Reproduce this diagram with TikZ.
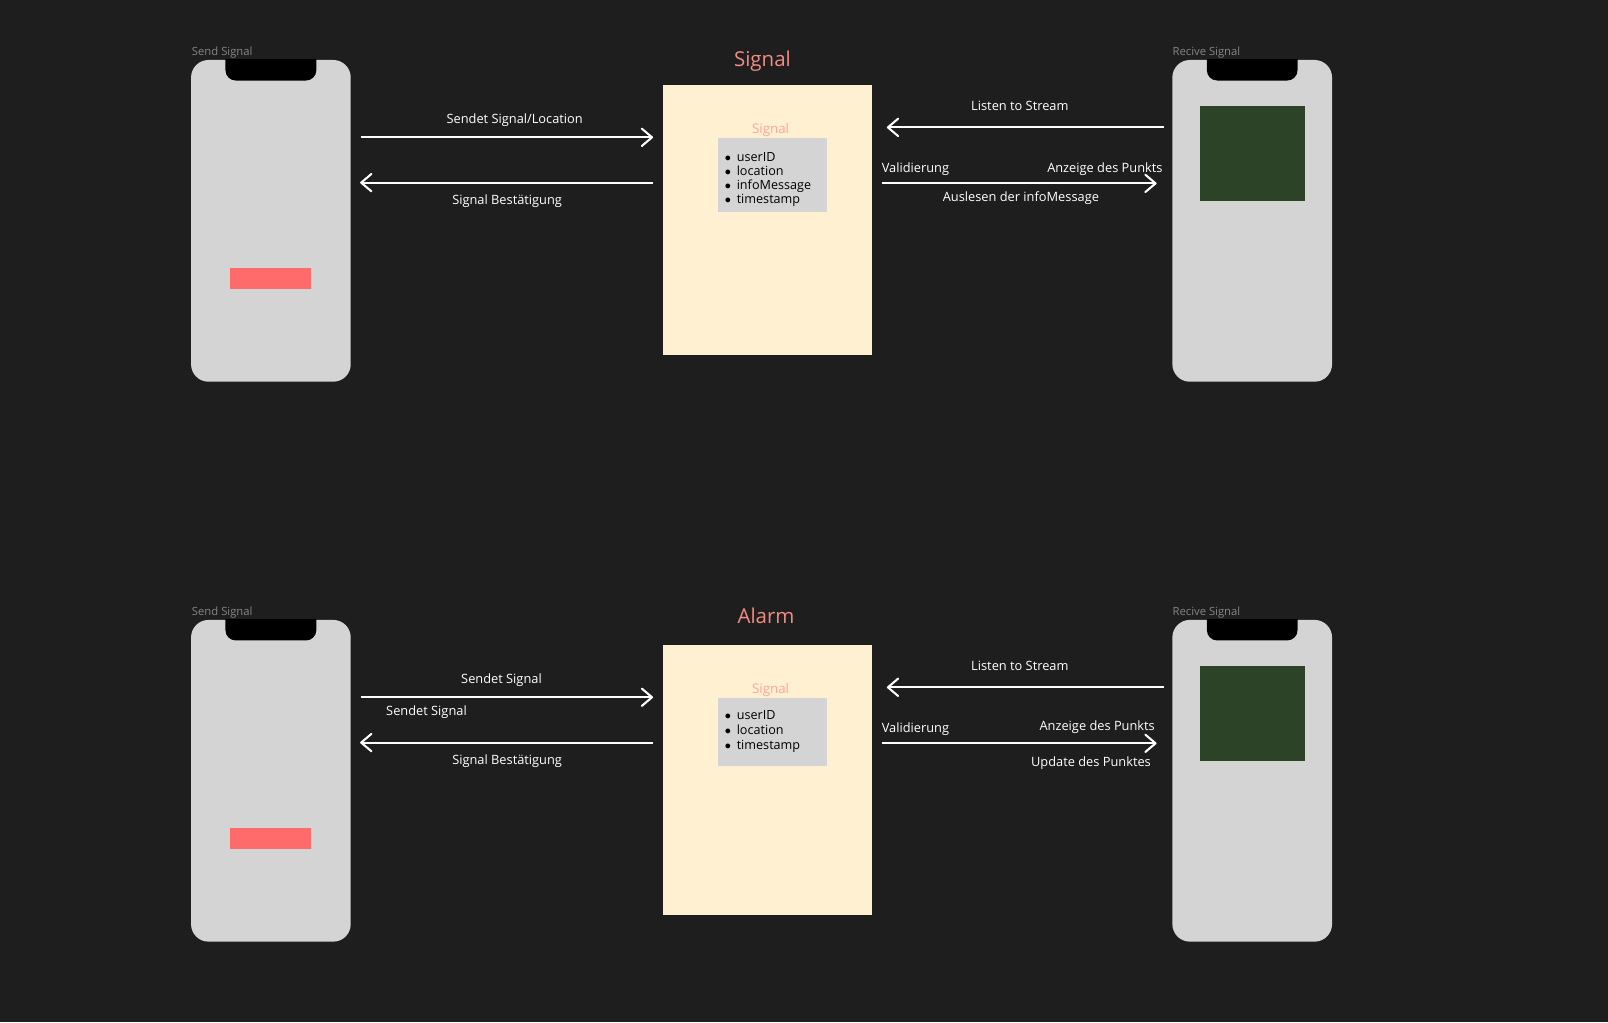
\documentclass[tikz,border=0pt]{standalone}
\usepackage{fontspec}
\setmainfont{Open Sans}
\usepackage{tikz}
\usetikzlibrary{arrows.meta,positioning,calc}

\definecolor{bgdark}{HTML}{1E1E1E}
\definecolor{phonegray}{HTML}{D4D4D4}
\definecolor{cream}{HTML}{FFF0D1}
\definecolor{salmon}{HTML}{F28B82}
\definecolor{lightsalmon}{HTML}{FFA3A3}
\definecolor{alertred}{HTML}{FF6B6B}
\definecolor{mapgreen}{HTML}{2C4328}
\definecolor{labelgray}{HTML}{868686}

\begin{document}
\begin{tikzpicture}[x=1pt,y=-1pt,
    phone/.style={fill=phonegray,rounded corners=17pt,minimum width=155.7pt,minimum height=313.7pt,inner sep=0pt},
    notch/.style={fill=black,rounded corners=10pt},
    store/.style={fill=cream,minimum width=203.8pt,minimum height=263.1pt,inner sep=0pt},
    fields/.style={fill=phonegray,text width=93pt,inner xsep=6.5pt,inner ysep=0pt,align=left,font=\fontsize{12.3}{13.8}\selectfont},
    lbl/.style={text=white,font=\fontsize{12.5}{15}\selectfont,inner sep=0pt,anchor=base},
    devlbl/.style={text=labelgray,font=\fontsize{11}{13}\selectfont,inner sep=0pt,anchor=base west},
    heading/.style={text=salmon,font=\fontsize{20}{24}\selectfont,inner sep=0pt,anchor=base},
    flow/.style={white,line width=2pt,-{Straight Barb[length=10pt,width=17pt,round]}}]

    % Background
    \useasboundingbox (0,0) rectangle (1568,997);
    \fill[bgdark] (0,0) rectangle (1568,997);

    % ---- Signal ----
    \node[heading] (title1) at (743.5,64.4) {Signal};

    % Sender
    \node[phone] (send1) at (264.15,215.35) {};
    \node[devlbl] (sendlbl1) at (187,54.6) {Send Signal};
    \begin{scope}
        \clip (send1.south west) rectangle (send1.north east);
        \fill[notch] ($(send1.north)+(-44.3,-20)$) rectangle ($(send1.north)+(44.3,20.2)$);
    \end{scope}
    \node[fill=alertred,minimum width=79.3pt,minimum height=20.8pt,inner sep=0pt] (alert1) at (264,271.7) {};

    % Receiver
    \node[phone] (recv1) at (1221.05,215.35) {};
    \node[devlbl] (recvlbl1) at (1143.2,54.6) {Recive Signal};
    \begin{scope}
        \clip (recv1.south west) rectangle (recv1.north east);
        \fill[notch] ($(recv1.north)+(-44.2,-20)$) rectangle ($(recv1.north)+(44.2,20.2)$);
    \end{scope}
    \node[fill=mapgreen,minimum width=102.4pt,minimum height=92.3pt,inner sep=0pt] (map1) at (1221.4,149.55) {};

    % Store
    \node[store] (data1) at (748.1,214.45) {};
    \node[text=lightsalmon,font=\fontsize{13}{15}\selectfont,inner sep=0pt,anchor=base] (datalbl1) at (751.4,129.8) {Signal};
    \node[fields,minimum height=72.5pt,text height=17.5pt,text depth=44.4pt] (fields1) at (753.45,170.45)
        {$\bullet$\hspace{5.5pt}userID\\ $\bullet$\hspace{5.5pt}location\\ $\bullet$\hspace{5.5pt}infoMessage\\ $\bullet$\hspace{5.5pt}timestamp};

    % Arrows
    \draw[flow,shorten <=9.7pt,shorten >=9.2pt] (send1.east |- 0,133.9) -- (data1.west |- 0,133.9);
    \draw[flow,shorten <=9.7pt,shorten >=9pt] (data1.west |- 0,178.1) -- (send1.east |- 0,178.1);
    \draw[flow,shorten <=7.8pt,shorten >=14.6pt] (recv1.west |- 0,124.2) -- (data1.east |- 0,124.2);
    \draw[flow,shorten <=9.7pt,shorten >=15.2pt] (data1.east |- 0,178.8) -- (recv1.west |- 0,178.8);
    \node[lbl] (sends1) at (501.9,120.3) {Sendet Signal/Location};
    \node[lbl] (confirm1) at (494.5,199) {Signal Bestätigung};
    \node[lbl] (listen1) at (994.5,108) {Listen to Stream};
    \node[lbl,anchor=base west] (valid1) at (859.7,168.4) {Validierung};
    \node[lbl,anchor=base east] (show1) at (1133.8,168.4) {Anzeige des Punkts};
    \node[lbl] (read1) at (995.5,196.6) {Auslesen der infoMessage};

    % ---- Alarm ----
    \begin{scope}[yshift=-546pt]
    \node[heading] (title2) at (747,62.4) {Alarm};

    % Sender
    \node[phone] (send2) at (264.15,215.35) {};
    \node[devlbl] (sendlbl2) at (187,54.6) {Send Signal};
    \begin{scope}
        \clip (send2.south west) rectangle (send2.north east);
        \fill[notch] ($(send2.north)+(-44.3,-20)$) rectangle ($(send2.north)+(44.3,20.2)$);
    \end{scope}
    \node[fill=alertred,minimum width=79.3pt,minimum height=20.8pt,inner sep=0pt] (alert2) at (264,271.7) {};

    % Receiver
    \node[phone] (recv2) at (1221.05,215.35) {};
    \node[devlbl] (recvlbl2) at (1143.2,54.6) {Recive Signal};
    \begin{scope}
        \clip (recv2.south west) rectangle (recv2.north east);
        \fill[notch] ($(recv2.north)+(-44.2,-20)$) rectangle ($(recv2.north)+(44.2,20.2)$);
    \end{scope}
    \node[fill=mapgreen,minimum width=102.4pt,minimum height=92.3pt,inner sep=0pt] (map2) at (1221.4,149.55) {};

    % Store
    \node[store] (data2) at (748.1,214.45) {};
    \node[text=lightsalmon,font=\fontsize{13}{15}\selectfont,inner sep=0pt,anchor=base] (datalbl2) at (751.4,129.8) {Signal};
    \node[fields,minimum height=65.8pt,font=\fontsize{12.3}{14.6}\selectfont] (fields2) at (753.45,167.6)
        {$\bullet$\hspace{5.5pt}userID\\ $\bullet$\hspace{5.5pt}location\\ $\bullet$\hspace{5.5pt}timestamp};

    % Arrows
    \draw[flow,shorten <=9.7pt,shorten >=9.2pt] (send2.east |- 0,133.9) -- (data2.west |- 0,133.9);
    \draw[flow,shorten <=9.7pt,shorten >=9pt] (data2.west |- 0,178.1) -- (send2.east |- 0,178.1);
    \draw[flow,shorten <=7.8pt,shorten >=14.6pt] (recv2.west |- 0,124.2) -- (data2.east |- 0,124.2);
    \draw[flow,shorten <=9.7pt,shorten >=15.2pt] (data2.east |- 0,178.8) -- (recv2.west |- 0,178.8);
    \node[lbl] (sends2) at (489,120.3) {Sendet Signal};
    \node[lbl,anchor=base west] (sendsb2) at (376.4,151.2) {Sendet Signal};
    \node[lbl] (confirm2) at (494.5,199) {Signal Bestätigung};
    \node[lbl] (listen2) at (994.5,108) {Listen to Stream};
    \node[lbl,anchor=base west] (valid2) at (859.7,168.4) {Validierung};
    \node[lbl,anchor=base east] (show2) at (1126.3,166.5) {Anzeige des Punkts};
    \node[lbl,anchor=base east] (update2) at (1122.4,201.6) {Update des Punktes};
    \end{scope}
\end{tikzpicture}
\end{document}
